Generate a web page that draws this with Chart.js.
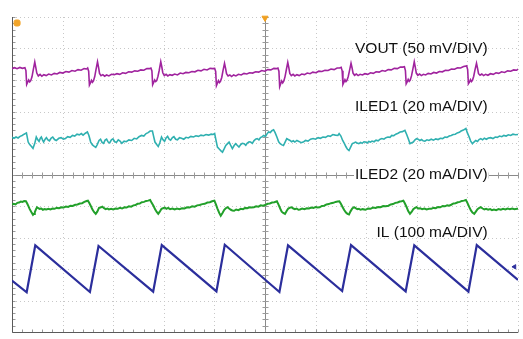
<!DOCTYPE html>
<html><head><meta charset="utf-8">
<script src="https://cdn.jsdelivr.net/npm/chart.js@4/dist/chart.umd.min.js"></script>
<style>html,body{margin:0;padding:0;background:#fff}canvas{display:block}</style>
</head><body>
<canvas id="c" width="523" height="339"></canvas>
<script>
// Time axis in µs (2 µs/div, 10 div), vertical axis in screen divisions (-5..5)
const xGrid = [0,2,4,6,8,10,12,14,16,18,20];
const yGrid = [-5,-4,-3,-2,-1,0,1,2,3,4,5];

const vout = [
[0,3.36],[0.1,3.39],[0.2,3.36],[0.31,3.40],[0.41,3.37],[0.51,3.39],
[0.55,3.30],[0.58,2.86],[0.62,2.93],[0.66,3.00],[0.70,2.94],[0.74,2.98],[0.79,3.10],[0.84,3.32],[0.90,3.57],[0.94,3.40],[0.98,3.22],[1.04,3.13],[1.11,3.18],[1.18,3.12],[1.26,3.17],[1.35,3.14],[1.45,3.19],[1.56,3.16],[1.67,3.21],[1.78,3.19],[1.89,3.24],[2.01,3.22],[2.13,3.27],[2.25,3.25],[2.37,3.30],[2.49,3.28],[2.61,3.33],[2.73,3.31],[2.85,3.36],[2.95,3.35],
[2.99,3.38],[3.03,3.28],[3.06,2.84],[3.10,2.91],[3.14,2.99],[3.18,2.93],[3.22,2.97],[3.27,3.11],[3.32,3.33],[3.38,3.58],[3.42,3.41],[3.46,3.21],[3.52,3.14],[3.59,3.17],[3.66,3.12],[3.74,3.16],[3.83,3.13],[3.93,3.18],[4.04,3.17],[4.15,3.20],[4.26,3.18],[4.37,3.23],[4.49,3.21],[4.61,3.26],[4.73,3.25],[4.85,3.29],[4.97,3.28],[5.09,3.32],[5.21,3.31],[5.33,3.36],[5.43,3.36],
[5.49,3.38],[5.53,3.29],[5.56,2.85],[5.60,2.92],[5.64,3.00],[5.68,2.95],[5.72,2.98],[5.77,3.12],[5.82,3.31],[5.88,3.58],[5.92,3.42],[5.96,3.23],[6.02,3.14],[6.09,3.18],[6.16,3.13],[6.24,3.17],[6.33,3.15],[6.43,3.19],[6.54,3.16],[6.65,3.22],[6.76,3.20],[6.87,3.24],[6.99,3.23],[7.11,3.27],[7.23,3.26],[7.35,3.31],[7.47,3.29],[7.59,3.34],[7.71,3.32],[7.83,3.37],[7.93,3.36],
[8.01,3.37],[8.05,3.27],[8.08,2.82],[8.12,2.90],[8.16,2.98],[8.20,2.92],[8.24,2.96],[8.29,3.08],[8.34,3.30],[8.40,3.53],[8.44,3.38],[8.48,3.20],[8.54,3.13],[8.61,3.16],[8.68,3.11],[8.76,3.16],[8.85,3.13],[8.95,3.18],[9.06,3.16],[9.17,3.21],[9.28,3.19],[9.39,3.23],[9.51,3.22],[9.63,3.26],[9.75,3.25],[9.87,3.30],[9.99,3.28],[10.11,3.33],[10.23,3.32],[10.35,3.37],[10.45,3.36],
[10.51,3.38],[10.55,3.28],[10.58,2.79],[10.62,2.88],[10.66,2.97],[10.70,2.91],[10.74,2.96],[10.79,3.10],[10.84,3.31],[10.90,3.56],[10.94,3.40],[10.98,3.21],[11.04,3.14],[11.11,3.18],[11.18,3.13],[11.26,3.17],[11.35,3.14],[11.45,3.19],[11.56,3.17],[11.67,3.22],[11.78,3.20],[11.89,3.25],[12.01,3.23],[12.13,3.28],[12.25,3.27],[12.37,3.31],[12.49,3.30],[12.61,3.35],[12.73,3.33],[12.85,3.38],[12.95,3.38],
[13.01,3.40],[13.05,3.29],[13.08,2.86],[13.12,2.93],[13.16,3.01],[13.20,2.95],[13.24,2.99],[13.29,3.11],[13.34,3.30],[13.40,3.53],[13.44,3.39],[13.48,3.22],[13.54,3.15],[13.61,3.19],[13.68,3.14],[13.76,3.18],[13.85,3.16],[13.95,3.20],[14.06,3.18],[14.17,3.23],[14.28,3.21],[14.39,3.26],[14.51,3.25],[14.63,3.30],[14.75,3.28],[14.87,3.33],[14.99,3.32],[15.11,3.37],[15.23,3.36],[15.35,3.41],[15.45,3.41],
[15.51,3.42],[15.55,3.30],[15.58,2.88],[15.62,2.94],[15.66,3.02],[15.70,2.96],[15.74,3.00],[15.79,3.13],[15.84,3.33],[15.90,3.58],[15.94,3.41],[15.98,3.22],[16.04,3.15],[16.11,3.19],[16.18,3.14],[16.26,3.18],[16.35,3.16],[16.45,3.21],[16.56,3.19],[16.67,3.24],[16.78,3.22],[16.89,3.27],[17.01,3.26],[17.13,3.31],[17.25,3.30],[17.37,3.35],[17.49,3.34],[17.61,3.39],[17.73,3.38],[17.85,3.43],[17.93,3.44],
[17.97,3.45],[18.01,3.33],[18.04,2.88],[18.08,2.93],[18.12,3.01],[18.16,2.95],[18.20,2.99],[18.25,3.12],[18.30,3.32],[18.36,3.53],[18.40,3.38],[18.44,3.20],[18.50,3.15],[18.57,3.19],[18.64,3.14],[18.72,3.18],[18.81,3.15],[18.91,3.20],[19.02,3.18],[19.13,3.23],[19.24,3.21],[19.35,3.26],[19.47,3.24],[19.59,3.29],[19.71,3.28],[19.83,3.32],[19.95,3.31],[20,3.35]
];

const iled1 = [
[0,1.18],[0.08,1.15],[0.16,1.19],[0.24,1.16],[0.32,1.21],[0.40,1.24],[0.48,1.28],[0.57,1.32],
[0.64,1.03],[0.70,0.95],[0.77,0.89],[0.83,0.83],[0.90,0.99],[0.96,1.19],[1.02,1.10],[1.07,1.05],[1.12,1.15],[1.16,1.19],[1.21,1.09],[1.25,1.03],[1.31,1.12],[1.36,1.17],[1.42,1.10],[1.48,1.07],[1.55,1.16],[1.61,1.19],[1.68,1.11],[1.75,1.08],[1.85,1.15],[1.94,1.17],[2.03,1.12],[2.11,1.14],[2.20,1.20],[2.30,1.18],[2.39,1.24],[2.48,1.22],[2.57,1.28],[2.66,1.26],[2.74,1.30],[2.81,1.25],[2.90,1.31],[2.98,1.35],
[3.04,1.24],[3.11,1.03],[3.18,0.94],[3.24,0.90],[3.31,0.86],[3.37,0.95],[3.44,1.08],[3.50,1.12],[3.56,1.02],[3.62,0.99],[3.68,1.09],[3.74,1.12],[3.80,1.03],[3.86,1.00],[3.93,1.10],[3.99,1.13],[4.06,1.04],[4.13,1.02],[4.20,1.10],[4.27,1.06],[4.34,0.99],[4.43,1.06],[4.52,1.04],[4.62,1.10],[4.73,1.08],[4.83,1.15],[4.93,1.13],[5.02,1.20],[5.12,1.24],[5.21,1.22],[5.30,1.30],[5.38,1.33],[5.46,1.38],[5.55,1.38],
[5.60,1.20],[5.65,1.03],[5.72,0.95],[5.78,0.89],[5.84,1.00],[5.91,1.19],[5.97,1.10],[6.03,1.05],[6.09,1.16],[6.15,1.21],[6.21,1.12],[6.27,1.09],[6.34,1.17],[6.40,1.20],[6.47,1.12],[6.54,1.10],[6.62,1.17],[6.70,1.15],[6.79,1.12],[6.88,1.18],[6.97,1.16],[7.07,1.21],[7.17,1.19],[7.27,1.23],[7.37,1.21],[7.47,1.25],[7.57,1.23],[7.67,1.27],[7.77,1.25],[7.87,1.28],[7.95,1.27],[8.01,1.30],
[8.06,1.10],[8.12,0.87],[8.20,0.80],[8.26,0.75],[8.32,0.71],[8.39,0.82],[8.45,0.92],[8.52,0.98],[8.58,1.03],[8.64,0.93],[8.71,0.82],[8.78,0.92],[8.84,0.98],[8.91,0.92],[8.97,0.87],[9.04,0.95],[9.10,0.99],[9.17,0.98],[9.24,0.93],[9.30,1.00],[9.37,1.04],[9.43,1.03],[9.50,0.99],[9.56,1.07],[9.63,1.12],[9.69,1.14],[9.76,1.10],[9.82,1.17],[9.89,1.20],[9.95,1.24],[10.02,1.21],[10.08,1.29],[10.14,1.35],[10.21,1.33],[10.27,1.39],[10.34,1.42],
[10.40,1.33],[10.47,1.19],[10.54,1.04],[10.60,0.98],[10.67,0.94],[10.73,0.92],[10.79,1.02],[10.86,1.14],[10.92,1.11],[10.99,1.08],[11.05,1.04],[11.12,1.07],[11.18,1.03],[11.26,1.08],[11.34,1.05],[11.43,1.01],[11.51,1.03],[11.60,1.08],[11.70,1.06],[11.80,1.12],[11.90,1.14],[12.00,1.12],[12.10,1.17],[12.19,1.15],[12.29,1.19],[12.39,1.18],[12.49,1.23],[12.58,1.21],[12.68,1.27],[12.78,1.25],[12.88,1.24],[12.93,1.30],
[13.00,1.22],[13.07,1.08],[13.14,0.98],[13.20,0.88],[13.26,0.80],[13.32,0.76],[13.38,0.86],[13.45,0.98],[13.51,1.00],[13.58,1.03],[13.64,1.00],[13.71,0.98],[13.78,1.02],[13.84,0.99],[13.91,1.04],[13.97,1.03],[14.04,1.00],[14.10,1.05],[14.17,1.03],[14.23,1.06],[14.31,1.04],[14.39,1.09],[14.47,1.07],[14.55,1.12],[14.62,1.14],[14.70,1.12],[14.78,1.17],[14.86,1.19],[14.94,1.18],[15.01,1.24],[15.09,1.23],[15.17,1.28],[15.26,1.31],[15.34,1.35],[15.43,1.36],[15.53,1.40],
[15.60,1.27],[15.66,1.14],[15.73,0.98],[15.80,1.01],[15.86,1.03],[15.93,1.10],[15.99,1.14],[16.05,1.12],[16.12,1.08],[16.19,1.11],[16.25,1.07],[16.32,1.06],[16.40,1.10],[16.48,1.08],[16.57,1.12],[16.66,1.09],[16.75,1.13],[16.84,1.11],[16.93,1.15],[17.02,1.14],[17.11,1.19],[17.19,1.18],[17.28,1.22],[17.36,1.24],[17.44,1.27],[17.52,1.28],[17.60,1.32],[17.68,1.34],[17.75,1.38],[17.84,1.41],[17.94,1.46],
[18.00,1.32],[18.07,1.19],[18.13,1.06],[18.20,0.98],[18.26,1.03],[18.33,1.08],[18.40,1.05],[18.46,1.11],[18.53,1.14],[18.60,1.10],[18.67,1.15],[18.75,1.12],[18.83,1.16],[18.92,1.17],[19.01,1.14],[19.10,1.19],[19.18,1.18],[19.27,1.22],[19.36,1.20],[19.44,1.24],[19.53,1.22],[19.62,1.26],[19.71,1.24],[19.80,1.28],[19.90,1.26],[20,1.27]
];

const iled2 = [
[0,-0.96],[0.07,-0.93],[0.14,-0.95],[0.21,-0.90],[0.28,-0.89],[0.35,-0.86],[0.42,-0.87],[0.48,-0.84],[0.55,-0.85],
[0.60,-0.92],[0.64,-0.99],[0.70,-1.10],[0.77,-1.20],[0.83,-1.28],[0.87,-1.25],[0.90,-1.20],[0.95,-1.10],[0.99,-1.04],[1.04,-1.07],[1.09,-1.09],[1.16,-1.08],[1.22,-1.12],[1.29,-1.10],[1.36,-1.11],[1.44,-1.09],[1.52,-1.11],[1.60,-1.08],[1.68,-1.09],[1.77,-1.06],[1.86,-1.07],[1.95,-1.04],[2.04,-1.05],[2.13,-1.02],[2.22,-1.03],[2.31,-0.99],[2.40,-1.00],[2.50,-0.96],[2.59,-0.95],[2.68,-0.92],[2.77,-0.91],[2.86,-0.87],[2.95,-0.84],[3.00,-0.83],
[3.05,-0.90],[3.11,-0.99],[3.17,-1.10],[3.24,-1.19],[3.31,-1.25],[3.37,-1.18],[3.44,-1.06],[3.50,-1.05],[3.57,-1.02],[3.64,-1.07],[3.70,-1.10],[3.77,-1.08],[3.83,-1.11],[3.92,-1.09],[4.00,-1.11],[4.09,-1.08],[4.18,-1.09],[4.26,-1.06],[4.35,-1.08],[4.44,-1.04],[4.53,-1.05],[4.62,-1.01],[4.71,-1.02],[4.80,-0.98],[4.88,-0.97],[4.96,-0.93],[5.05,-0.92],[5.13,-0.88],[5.22,-0.87],[5.30,-0.84],[5.38,-0.83],[5.46,-0.81],
[5.52,-0.90],[5.59,-0.99],[5.65,-1.10],[5.72,-1.19],[5.78,-1.25],[5.84,-1.18],[5.91,-1.09],[5.97,-1.07],[6.04,-1.05],[6.10,-1.09],[6.17,-1.06],[6.25,-1.10],[6.34,-1.08],[6.43,-1.11],[6.52,-1.08],[6.62,-1.10],[6.72,-1.07],[6.82,-1.08],[6.92,-1.04],[7.02,-1.05],[7.12,-1.01],[7.22,-1.02],[7.32,-0.98],[7.42,-0.97],[7.52,-0.94],[7.62,-0.93],[7.72,-0.89],[7.82,-0.88],[7.91,-0.85],[8.00,-0.83],
[8.06,-0.95],[8.12,-1.08],[8.19,-1.22],[8.25,-1.31],[8.32,-1.22],[8.39,-1.12],[8.45,-1.07],[8.52,-1.04],[8.58,-1.08],[8.65,-1.12],[8.71,-1.14],[8.78,-1.15],[8.86,-1.11],[8.95,-1.13],[9.04,-1.09],[9.13,-1.10],[9.22,-1.06],[9.30,-1.07],[9.39,-1.04],[9.47,-1.05],[9.56,-1.04],[9.65,-1.01],[9.74,-1.02],[9.83,-0.98],[9.92,-0.99],[10.01,-0.97],[10.10,-0.93],[10.19,-0.92],[10.28,-0.89],[10.37,-0.88],[10.47,-0.85],
[10.53,-0.95],[10.60,-1.08],[10.66,-1.18],[10.72,-1.22],[10.79,-1.25],[10.86,-1.15],[10.92,-1.08],[10.99,-1.05],[11.05,-1.04],[11.12,-1.08],[11.18,-1.10],[11.25,-1.08],[11.32,-1.12],[11.38,-1.11],[11.47,-1.08],[11.56,-1.10],[11.65,-1.07],[11.74,-1.08],[11.83,-1.05],[11.92,-1.06],[12.00,-1.03],[12.08,-1.05],[12.16,-1.04],[12.25,-1.00],[12.34,-0.99],[12.43,-0.95],[12.52,-0.94],[12.61,-0.91],[12.70,-0.90],[12.79,-0.87],[12.87,-0.86],[12.94,-0.85],
[13.00,-0.93],[13.07,-1.04],[13.13,-1.13],[13.20,-1.21],[13.26,-1.25],[13.32,-1.27],[13.38,-1.17],[13.45,-1.08],[13.52,-1.04],[13.58,-1.07],[13.65,-1.10],[13.71,-1.09],[13.78,-1.12],[13.86,-1.10],[13.97,-1.12],[14.07,-1.08],[14.17,-1.09],[14.27,-1.05],[14.37,-1.06],[14.47,-1.03],[14.57,-1.04],[14.67,-1.00],[14.77,-1.01],[14.88,-0.99],[14.97,-0.95],[15.06,-0.94],[15.15,-0.90],[15.24,-0.89],[15.33,-0.86],[15.40,-0.85],[15.47,-0.83],
[15.53,-0.92],[15.60,-1.04],[15.66,-1.16],[15.73,-1.25],[15.80,-1.18],[15.86,-1.10],[15.93,-1.06],[15.99,-1.04],[16.06,-1.08],[16.13,-1.07],[16.21,-1.10],[16.30,-1.08],[16.39,-1.11],[16.48,-1.09],[16.57,-1.09],[16.66,-1.06],[16.75,-1.07],[16.84,-1.03],[16.93,-1.04],[17.02,-1.00],[17.11,-1.01],[17.20,-0.98],[17.28,-0.99],[17.36,-0.96],[17.45,-0.92],[17.53,-0.91],[17.62,-0.88],[17.70,-0.87],[17.78,-0.84],[17.86,-0.83],[17.94,-0.81],
[18.00,-0.90],[18.07,-1.03],[18.14,-1.14],[18.20,-1.21],[18.27,-1.25],[18.34,-1.17],[18.40,-1.10],[18.47,-1.06],[18.53,-1.04],[18.60,-1.08],[18.67,-1.11],[18.74,-1.09],[18.82,-1.12],[18.90,-1.10],[18.97,-1.13],[19.05,-1.11],[19.14,-1.13],[19.23,-1.10],[19.32,-1.12],[19.41,-1.09],[19.50,-1.11],[19.59,-1.08],[19.68,-1.10],[19.77,-1.08],[19.86,-1.10],[19.96,-1.09],[20,-1.09]
];

const il = [
[0,-3.37],[0.58,-3.74],[0.92,-2.25],[3.08,-3.73],[3.42,-2.27],[5.58,-3.72],[5.92,-2.24],[8.08,-3.71],[8.41,-2.23],[10.57,-3.73],[10.91,-2.25],[13.05,-3.70],[13.40,-2.24],[15.56,-3.71],[15.90,-2.25],[18.04,-3.72],[18.37,-2.24],[20,-3.35]
];

const traceLabels = ['VOUT (50 mV/DIV)','ILED1 (20 mA/DIV)','ILED2 (20 mA/DIV)','IL (100 mA/DIV)'];
const labelY = [4.0, 2.15, 0, -1.86];
const labelRightX = 18.8;

const triggerMarker = [[10,4.97]];
const ch1Marker = [[0.2,4.81]];
const ilRefMarker = [[19.86,-2.93]];

const pts = a => a.map(p => ({x:p[0], y:p[1]}));

const gridPlugin = {
  id:'scopeGrid',
  beforeDatasetsDraw(chart){
    const {ctx, chartArea:a, scales:{x,y}} = chart;
    const X = v => Math.round(x.getPixelForValue(v)) + 0.5;
    const Y = v => Math.round(y.getPixelForValue(v)) + 0.5;
    ctx.save();
    ctx.lineWidth = 1;
    ctx.strokeStyle = '#c8c8c8';
    ctx.setLineDash([1,3]);
    for (const v of xGrid) { if (v===10||v===0) continue; ctx.beginPath(); ctx.moveTo(X(v), a.top); ctx.lineTo(X(v), a.bottom); ctx.stroke(); }
    for (const v of yGrid) { if (v===0||v===-5) continue; ctx.beginPath(); ctx.moveTo(a.left, Y(v)); ctx.lineTo(a.right, Y(v)); ctx.stroke(); }
    ctx.setLineDash([]);
    ctx.strokeStyle = '#8a8a8a';
    ctx.beginPath(); ctx.moveTo(X(10), a.top); ctx.lineTo(X(10), a.bottom); ctx.stroke();
    ctx.beginPath(); ctx.moveTo(a.left, Y(0)); ctx.lineTo(a.right, Y(0)); ctx.stroke();
    ctx.strokeStyle = '#9a9a9a';
    for (let i = 0; i <= 50; i++) {
      const px = X(i*0.4);
      ctx.beginPath(); ctx.moveTo(px, Y(0)-3); ctx.lineTo(px, Y(0)+3); ctx.stroke();
      ctx.beginPath(); ctx.moveTo(px, Y(-5)); ctx.lineTo(px, Y(-5)-3); ctx.stroke();
    }
    for (let i = 0; i <= 50; i++) {
      const py = Y(-5 + i*0.2);
      ctx.beginPath(); ctx.moveTo(X(10)-3, py); ctx.lineTo(X(10)+3, py); ctx.stroke();
      ctx.beginPath(); ctx.moveTo(X(0), py); ctx.lineTo(X(0)+3, py); ctx.stroke();
    }
    ctx.strokeStyle = '#5a5a5a';
    ctx.beginPath(); ctx.moveTo(X(0), a.top); ctx.lineTo(X(0), Y(-5)); ctx.lineTo(a.right, Y(-5)); ctx.stroke();
    ctx.restore();
  },
  afterDatasetsDraw(chart){
    const {ctx, scales:{x,y}} = chart;
    ctx.save();
    ctx.font = '15.5px "Liberation Sans", Arial, sans-serif';
    ctx.textAlign = 'right';
    ctx.textBaseline = 'middle';
    traceLabels.forEach((t,i) => {
      const rx = x.getPixelForValue(labelRightX), cy = y.getPixelForValue(labelY[i]);
      if (labelY[i] === 0) {
        const w = ctx.measureText(t).width;
        ctx.fillStyle = '#fff';
        ctx.fillRect(rx - w - 1, cy - 8, w + 2, 16);
      }
      ctx.fillStyle = '#111';
      ctx.fillText(t, rx, cy);
    });
    ctx.restore();
  }
};

const traceStyle = (label, data, color, w) => ({
  label, data: pts(data), borderColor: color, borderWidth: w,
  pointRadius: 0, tension: 0, fill: false
});

new Chart(document.getElementById('c'), {
  type: 'line',
  data: { datasets: [
    traceStyle('VOUT', vout, '#a0239e', 1.6),
    traceStyle('ILED1', iled1, '#2fb0b0', 1.6),
    traceStyle('ILED2', iled2, '#22a02a', 2),
    traceStyle('IL', il, '#2b2e9c', 2.2),
    { label:'trig', data: pts(triggerMarker), showLine:false, pointStyle:'triangle', rotation:180, pointRadius:3.5, backgroundColor:'#f0a020', borderColor:'#f0a020', clip:false },
    { label:'ch', data: pts(ch1Marker), showLine:false, pointStyle:'rectRounded', pointRadius:3.5, backgroundColor:'#f2a52a', borderColor:'#f2a52a', clip:false },
    { label:'ref', data: pts(ilRefMarker), showLine:false, pointStyle:'triangle', rotation:-90, pointRadius:2.5, backgroundColor:'#2b2e9c', borderColor:'#2b2e9c', clip:false }
  ]},
  options: {
    responsive: false, animation: false,
    layout: { padding: { left: 12, top: 17, right: 0, bottom: 7 } },
    scales: {
      x: { type: 'linear', min: 0, max: 20, display: false },
      y: { type: 'linear', min: -5, max: 5, display: false }
    },
    plugins: { legend: { display: false }, tooltip: { enabled: false } }
  },
  plugins: [gridPlugin]
});
</script>
</body></html>
